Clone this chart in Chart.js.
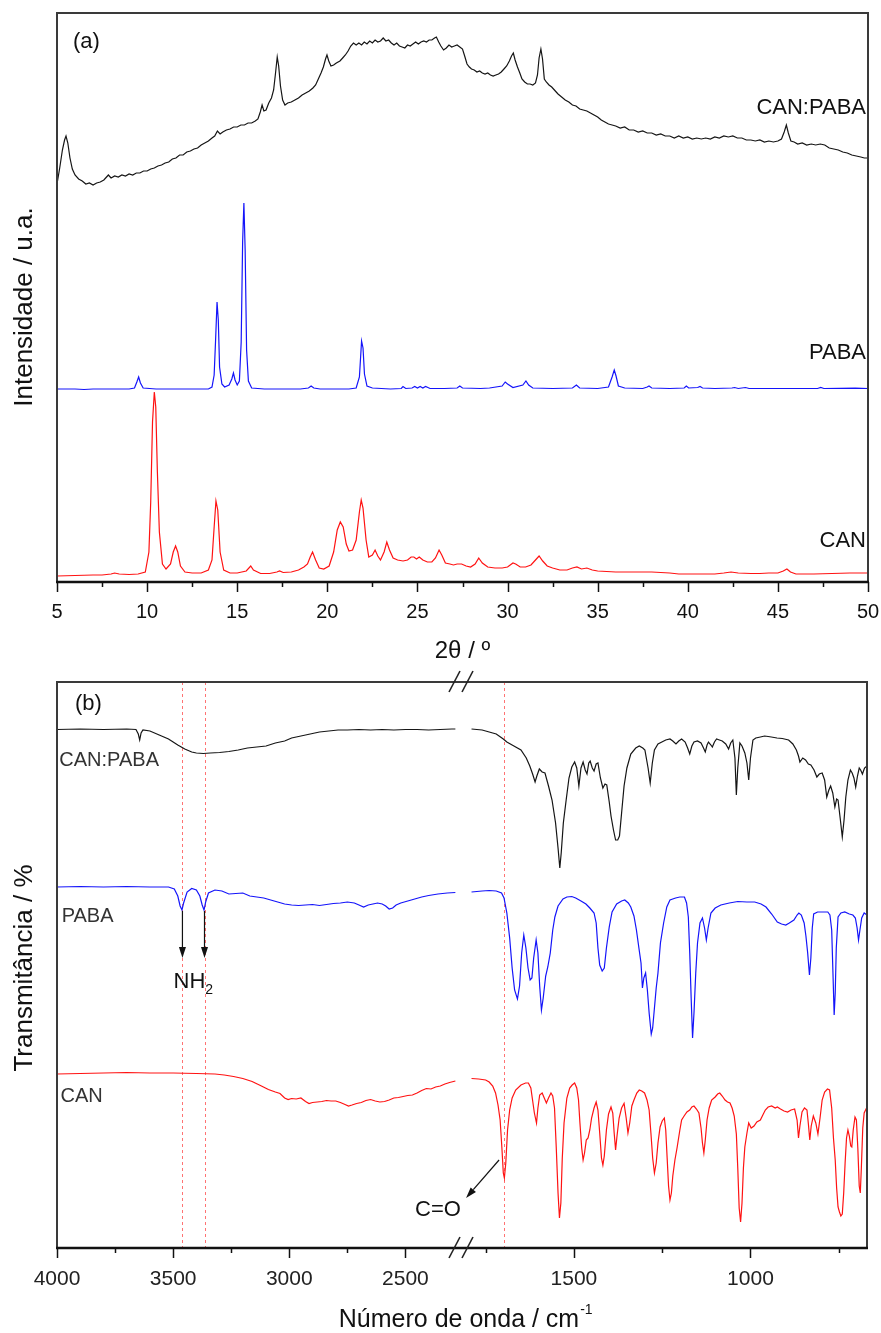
<!DOCTYPE html>
<html>
<head>
<meta charset="utf-8">
<script src="https://cdn.jsdelivr.net/npm/chart.js@4"></script>
<style>
  html, body { margin: 0; padding: 0; background: #fff; }
  #wrap { position: relative; width: 881px; height: 1333px; }
  #wrap canvas { position: absolute; left: 0; }
  #xrd { top: 0; width: 881px; height: 668px; }
  #ftir { top: 668px; width: 881px; height: 665px; }
</style>
</head>
<body>
<div id="wrap">
  <canvas id="xrd" width="881" height="668"></canvas>
  <canvas id="ftir" width="881" height="665"></canvas>
</div>
<script>
// ---------- (a) X-ray powder patterns: [2theta, intensity] ----------
const xrdCanPaba = [
  [5.0, 398], [5.15, 414], [5.3, 432], [5.42, 442], [5.5, 446], [5.6, 439], [5.72, 424], [5.85, 413],
  [6.0, 407], [6.2, 403], [6.4, 401], [6.6, 398], [6.8, 399], [7.0, 397], [7.2, 399], [7.4, 400],
  [7.6, 402], [7.75, 405], [7.85, 407], [8.0, 404], [8.2, 406], [8.4, 405], [8.6, 407], [8.8, 406],
  [9.0, 408], [9.2, 407], [9.4, 409], [9.6, 409], [9.8, 411], [10.0, 411], [10.2, 413], [10.4, 414],
  [10.6, 416], [10.8, 417], [11.0, 419], [11.2, 420], [11.4, 423], [11.6, 424], [11.8, 427], [12.0, 427],
  [12.2, 430], [12.4, 431], [12.6, 433], [12.8, 434], [13.0, 437], [13.2, 439], [13.4, 441], [13.6, 444],
  [13.75, 446], [13.9, 451], [14.05, 448], [14.2, 450], [14.4, 452], [14.6, 453], [14.8, 455], [15.0, 455],
  [15.2, 457], [15.4, 457], [15.6, 459], [15.8, 459], [16.0, 461], [16.15, 463], [16.28, 470], [16.38, 477],
  [16.48, 471], [16.6, 472], [16.75, 479], [16.9, 484], [17.02, 492], [17.12, 508], [17.22, 525], [17.3, 516],
  [17.4, 496], [17.52, 482], [17.65, 477], [17.8, 479], [18.0, 480], [18.2, 482], [18.4, 484], [18.6, 487],
  [18.8, 489], [19.0, 491], [19.2, 494], [19.35, 497], [19.5, 503], [19.65, 509], [19.78, 515], [19.9, 523],
  [19.98, 527], [20.08, 521], [20.2, 516], [20.35, 517], [20.5, 519], [20.7, 521], [20.85, 524], [21.0, 527],
  [21.15, 531], [21.3, 536], [21.45, 539], [21.6, 537], [21.75, 539], [21.9, 537], [22.05, 540], [22.2, 538],
  [22.35, 541], [22.5, 539], [22.65, 542], [22.8, 540], [22.95, 541], [23.1, 544], [23.25, 541], [23.4, 542],
  [23.55, 539], [23.7, 537], [23.85, 539], [24.0, 536], [24.15, 535], [24.3, 534], [24.45, 537], [24.6, 536],
  [24.75, 538], [24.9, 540], [25.05, 538], [25.2, 540], [25.35, 541], [25.5, 540], [25.65, 542], [25.8, 542],
  [25.95, 544], [26.05, 545], [26.18, 540], [26.3, 536], [26.45, 532], [26.6, 534], [26.75, 537], [26.9, 535],
  [27.05, 536], [27.2, 537], [27.35, 535], [27.5, 533], [27.62, 526], [27.75, 518], [27.88, 515], [28.0, 513],
  [28.15, 512], [28.3, 510], [28.45, 511], [28.6, 509], [28.75, 508], [28.9, 509], [29.05, 507], [29.2, 506],
  [29.35, 507], [29.5, 508], [29.65, 510], [29.8, 513], [29.95, 516], [30.1, 521], [30.22, 526], [30.32, 529],
  [30.42, 522], [30.55, 515], [30.68, 509], [30.8, 503], [30.95, 500], [31.1, 498], [31.25, 498], [31.4, 497],
  [31.55, 499], [31.66, 507], [31.75, 524], [31.85, 533], [31.94, 523], [32.04, 503], [32.15, 500], [32.3, 497],
  [32.45, 495], [32.6, 492], [32.8, 488], [33.0, 485], [33.2, 482], [33.4, 480], [33.6, 477], [33.8, 476],
  [34.0, 473], [34.2, 472], [34.4, 471], [34.6, 469], [34.8, 467], [35.0, 465], [35.2, 462], [35.4, 460],
  [35.6, 458], [35.8, 457], [36.0, 456], [36.25, 454], [36.5, 455], [36.75, 452], [37.0, 452], [37.25, 450],
  [37.5, 451], [37.75, 449], [38.0, 449], [38.25, 447], [38.5, 448], [38.75, 446], [39.0, 446], [39.25, 444],
  [39.5, 446], [39.75, 444], [40.0, 445], [40.25, 443], [40.5, 444], [40.75, 443], [41.0, 444], [41.25, 443],
  [41.5, 445], [41.75, 444], [42.0, 446], [42.25, 445], [42.5, 446], [42.75, 444], [43.0, 444], [43.25, 442],
  [43.5, 442], [43.75, 441], [44.0, 442], [44.25, 440], [44.5, 441], [44.75, 440], [45.0, 441], [45.2, 443],
  [45.35, 450], [45.47, 457], [45.58, 449], [45.72, 441], [45.9, 440], [46.1, 438], [46.35, 439], [46.6, 437],
  [46.85, 438], [47.1, 437], [47.35, 438], [47.6, 437], [47.85, 434], [48.1, 433], [48.35, 432], [48.6, 430],
  [48.85, 429], [49.1, 427], [49.35, 426], [49.6, 425], [49.8, 424], [50.0, 424]
];

const xrdPaba = [
  [5.0, 193], [6.0, 193], [6.5, 192.5], [7.0, 193], [8.0, 193], [9.0, 193], [9.3, 194], [9.43, 200],
  [9.53, 205], [9.63, 199], [9.78, 194], [10.5, 193], [11.5, 193], [12.5, 193], [13.4, 193], [13.6, 195],
  [13.72, 207], [13.8, 242], [13.88, 280], [13.95, 262], [14.02, 215], [14.15, 198], [14.3, 195], [14.55, 197],
  [14.7, 203], [14.79, 209], [14.88, 202], [15.0, 197], [15.12, 201], [15.22, 240], [15.3, 340], [15.37, 379],
  [15.44, 332], [15.52, 232], [15.62, 201], [15.8, 194], [16.5, 193], [17.5, 193], [18.5, 193], [18.95, 194],
  [19.1, 196], [19.25, 194], [19.6, 193], [20.5, 193], [21.2, 193], [21.6, 194], [21.78, 205], [21.9, 241],
  [21.98, 234], [22.06, 208], [22.2, 196], [22.5, 194], [23.5, 193], [24.1, 193.5], [24.2, 195.5], [24.35, 193.5],
  [24.7, 194], [24.85, 195.5], [25.0, 194], [25.15, 195.5], [25.3, 194], [25.45, 195.5], [25.7, 193.5], [26.5, 193.5],
  [27.2, 194], [27.35, 196], [27.5, 194], [28.5, 193.5], [29.0, 194], [29.7, 196], [29.87, 200], [30.0, 198],
  [30.3, 194.5], [30.85, 197], [31.02, 201], [31.17, 197], [31.4, 194], [32.5, 193.5], [33.6, 194], [33.82, 197],
  [34.0, 194], [35.0, 193.5], [35.6, 195], [35.8, 205], [35.92, 212], [36.02, 206], [36.15, 196], [36.5, 194],
  [37.5, 193.5], [37.75, 195], [37.85, 196], [38.0, 194], [39.0, 193.5], [39.8, 194], [39.92, 196], [40.05, 194],
  [40.55, 194.5], [40.68, 195.5], [40.82, 194], [41.5, 193.5], [42.45, 194], [42.6, 194.5], [42.8, 193.5], [43.2, 194.5],
  [43.4, 193.5], [45.0, 193.5], [47.2, 193.5], [47.38, 194.5], [47.55, 193.5], [49.3, 193.8], [50.0, 193.5]
];

const xrdCan = [
  [5.0, 6], [6.0, 6.5], [7.0, 7], [7.5, 7], [8.0, 8], [8.2, 9], [8.45, 8], [9.0, 7.5],
  [9.5, 8], [9.9, 10], [10.1, 30], [10.2, 80], [10.3, 160], [10.4, 190], [10.48, 175], [10.57, 110],
  [10.68, 50], [10.85, 18], [11.05, 13], [11.3, 18], [11.45, 30], [11.58, 36], [11.7, 30], [11.85, 16],
  [12.1, 10], [12.5, 9], [13.0, 9], [13.4, 12], [13.6, 22], [13.72, 55], [13.82, 81], [13.92, 72],
  [14.05, 30], [14.25, 12], [14.6, 9], [15.0, 9], [15.5, 11], [15.75, 16], [15.9, 12], [16.3, 8.5],
  [16.8, 8.5], [17.2, 10], [17.35, 11], [17.55, 9.5], [18.0, 10], [18.4, 12], [18.7, 15], [18.9, 18],
  [19.05, 25], [19.18, 30], [19.35, 22], [19.55, 14], [19.8, 13], [20.1, 16], [20.35, 30], [20.55, 52],
  [20.72, 60], [20.88, 55], [21.05, 38], [21.2, 31], [21.4, 32], [21.6, 42], [21.78, 70], [21.88, 82],
  [21.98, 74], [22.15, 42], [22.3, 25], [22.5, 27], [22.65, 32], [22.8, 26], [22.95, 22], [23.15, 30],
  [23.3, 40], [23.45, 32], [23.65, 24], [23.9, 22], [24.2, 21], [24.45, 22], [24.65, 25], [24.8, 25],
  [24.95, 23], [25.1, 25], [25.3, 22], [25.55, 20], [25.8, 20], [26.0, 24], [26.2, 32], [26.35, 27],
  [26.55, 19], [26.8, 18], [27.0, 17], [27.2, 18], [27.45, 18], [27.7, 16], [27.95, 15], [28.2, 18],
  [28.4, 24], [28.6, 19], [28.9, 15], [29.3, 14], [29.7, 14], [30.0, 15], [30.3, 19], [30.45, 18],
  [30.7, 15], [31.0, 15], [31.3, 17], [31.55, 22], [31.75, 26], [31.95, 21], [32.2, 16], [32.5, 14],
  [32.9, 12], [33.3, 12], [33.6, 14], [33.85, 15], [34.1, 13], [34.4, 14], [34.7, 12], [35.0, 11],
  [35.5, 10.5], [36.0, 10], [36.5, 10], [37.0, 10], [37.5, 10], [38.0, 10], [38.5, 9.5], [39.0, 9],
  [39.5, 8], [40.0, 8], [40.5, 8], [41.0, 8], [41.5, 8], [42.0, 9], [42.4, 10], [42.8, 9],
  [43.5, 8.5], [44.0, 8.5], [44.5, 9], [45.0, 9], [45.3, 11], [45.5, 13], [45.7, 10], [46.0, 8],
  [47.0, 8], [48.0, 8.5], [49.0, 9], [50.0, 9]
];

// ---------- (b) infrared spectra: [wavenumber, transmittance] ----------
// high = 4000..2250 cm-1 part, low = 1800..670 cm-1 part (axis is broken between them)
const irCanPabaHigh = [
  [4000, 518.5], [3900, 519], [3800, 518.5], [3700, 519], [3660, 518.5], [3650, 514], [3644, 508], [3638, 515],
  [3630, 518], [3600, 517], [3560, 513], [3520, 509], [3480, 503], [3450, 499], [3420, 496], [3400, 495],
  [3370, 494.5], [3340, 495], [3300, 495.5], [3260, 496.5], [3220, 498], [3180, 500], [3140, 501], [3100, 502],
  [3060, 505], [3020, 507], [2990, 510], [2950, 512], [2910, 514], [2870, 516], [2830, 517], [2790, 518],
  [2750, 518], [2700, 518.5], [2650, 518], [2600, 518.5], [2550, 518], [2500, 518.5], [2450, 518.5], [2400, 518],
  [2350, 518.5], [2300, 519], [2285, 519]
];
const irCanPabaLow = [
  [1790, 519], [1760, 518], [1740, 516], [1720, 514], [1700, 509], [1690, 506], [1670, 502], [1650, 498],
  [1635, 490], [1625, 482], [1617, 474], [1610, 466], [1605, 472], [1598, 479], [1590, 476], [1582, 475],
  [1572, 462], [1562, 448], [1552, 425], [1545, 400], [1540, 380], [1536, 395], [1530, 425], [1522, 448],
  [1514, 470], [1506, 481], [1498, 486], [1492, 480], [1486, 462], [1480, 480], [1474, 486], [1468, 478],
  [1463, 474], [1458, 485], [1454, 487], [1448, 480], [1443, 477], [1437, 484], [1432, 485], [1425, 470],
  [1418, 460], [1412, 464], [1407, 463], [1400, 446], [1395, 432], [1388, 418], [1382, 408], [1376, 408],
  [1371, 412], [1365, 435], [1358, 462], [1350, 480], [1339, 494], [1325, 500], [1315, 502], [1305, 500],
  [1299, 498], [1290, 480], [1284, 465], [1278, 485], [1272, 498], [1262, 504], [1251, 506], [1240, 508],
  [1228, 509], [1220, 507], [1211, 504], [1203, 507], [1195, 509], [1185, 506], [1178, 500], [1172, 494],
  [1166, 502], [1160, 506], [1150, 507], [1140, 505], [1133, 500], [1128, 496], [1123, 503], [1119, 506],
  [1112, 503], [1108, 501], [1102, 506], [1096, 509], [1088, 508], [1080, 507], [1070, 504], [1062, 499],
  [1056, 505], [1050, 508], [1044, 490], [1040, 453], [1036, 480], [1030, 505], [1024, 502], [1016, 495],
  [1010, 485], [1005, 468], [1000, 490], [993, 508], [985, 510], [972, 511], [960, 512], [950, 511.5],
  [941, 511], [925, 510], [910, 509.5], [892, 508], [880, 504], [870, 498], [864, 492], [860, 486],
  [852, 490], [844, 488], [836, 484], [829, 483], [820, 478], [812, 471], [805, 474], [797, 475],
  [790, 468], [784, 451], [778, 458], [773, 462], [767, 455], [761, 441], [756, 449], [752, 448],
  [746, 430], [740, 411], [735, 428], [730, 451], [724, 468], [717, 478], [712, 475], [707, 470],
  [702, 461], [697, 472], [692, 480], [688, 478], [683, 474], [677, 480], [670, 482]
];

const irPabaHigh = [
  [4000, 361], [3900, 361.5], [3800, 361], [3700, 361.5], [3600, 361], [3520, 361], [3495, 359], [3480, 352],
  [3470, 342], [3462, 338], [3455, 345], [3440, 356], [3420, 359.5], [3400, 358], [3385, 352], [3375, 343],
  [3367, 338], [3360, 346], [3348, 355], [3320, 358], [3290, 357], [3260, 354], [3230, 354.5], [3200, 355],
  [3170, 352], [3140, 351], [3110, 350], [3080, 348], [3050, 346], [3020, 344], [2990, 343], [2960, 342.5],
  [2930, 343], [2900, 343.5], [2870, 342.5], [2840, 343.5], [2810, 344.5], [2780, 345], [2750, 346], [2720, 345],
  [2700, 343], [2680, 341], [2660, 343], [2640, 344], [2620, 345], [2600, 344], [2585, 342], [2570, 339],
  [2555, 340], [2540, 343], [2520, 345], [2490, 347], [2460, 349], [2430, 351], [2400, 352.5], [2360, 354],
  [2320, 355], [2285, 355.5]
];
const irPabaLow = [
  [1790, 356], [1760, 357], [1740, 357.5], [1720, 357], [1705, 355], [1698, 350], [1690, 335], [1682, 310],
  [1675, 280], [1668, 258], [1660, 249], [1654, 262], [1648, 295], [1642, 313], [1636, 300], [1630, 280],
  [1624, 268], [1619, 270], [1614, 290], [1607, 308], [1602, 295], [1597, 262], [1592, 238], [1587, 250],
  [1580, 272], [1574, 281], [1567, 295], [1560, 318], [1554, 331], [1545, 342], [1531, 349], [1520, 351],
  [1506, 351.5], [1495, 350], [1480, 347], [1466, 344], [1455, 340], [1443, 335], [1437, 325], [1432, 300],
  [1427, 283], [1420, 277], [1414, 280], [1408, 300], [1400, 321], [1392, 336], [1379, 344], [1365, 347],
  [1356, 348], [1346, 345], [1339, 341], [1330, 332], [1323, 318], [1316, 300], [1310, 285], [1306, 260],
  [1302, 270], [1297, 275], [1292, 258], [1287, 235], [1281, 214], [1277, 220], [1272, 240], [1267, 260],
  [1262, 275], [1255, 305], [1246, 325], [1237, 341], [1228, 348], [1212, 350], [1200, 351], [1187, 351],
  [1181, 345], [1176, 331], [1172, 295], [1168, 250], [1164, 210], [1160, 235], [1155, 275], [1150, 305],
  [1143, 325], [1136, 330], [1130, 320], [1125, 308], [1120, 320], [1112, 335], [1100, 340], [1084, 343],
  [1060, 345], [1036, 346.5], [1010, 346], [988, 346], [970, 344], [956, 341], [940, 334], [924, 326],
  [912, 324], [900, 323], [890, 325], [877, 328], [868, 333], [863, 335], [856, 333], [848, 325],
  [843, 312], [838, 295], [833, 273], [829, 290], [825, 320], [821, 334], [810, 336], [795, 336],
  [781, 336], [775, 333], [770, 318], [766, 270], [763, 233], [760, 255], [757, 300], [752, 331],
  [744, 335], [733, 336], [720, 334], [710, 333], [703, 330], [698, 320], [694, 308], [690, 318],
  [685, 330], [678, 335], [670, 333]
];

const irCanHigh = [
  [4000, 174], [3900, 174.5], [3800, 175], [3700, 175.5], [3600, 175], [3500, 175], [3400, 174.5], [3320, 174],
  [3280, 173], [3240, 171.5], [3200, 169.5], [3160, 166.5], [3120, 162], [3090, 158.5], [3060, 156], [3040, 154.5],
  [3020, 150], [3005, 148.5], [2990, 149.5], [2970, 149], [2950, 150], [2930, 146.5], [2915, 144.5], [2900, 145.5],
  [2880, 146], [2860, 146.5], [2840, 147.5], [2820, 147], [2800, 147], [2780, 145.5], [2760, 143.5], [2745, 142],
  [2730, 143], [2710, 144.5], [2690, 145.5], [2670, 147.5], [2650, 148.5], [2630, 147], [2610, 146], [2590, 146.5],
  [2570, 148], [2550, 150], [2530, 150.5], [2510, 151.5], [2490, 152.5], [2470, 153], [2450, 155], [2430, 157.5],
  [2410, 159.5], [2390, 159], [2370, 161], [2350, 162], [2330, 164], [2310, 165.5], [2285, 167]
];
const irCanLow = [
  [1790, 169.5], [1770, 169], [1750, 168], [1740, 166], [1730, 162], [1722, 155], [1715, 143], [1709, 128],
  [1704, 100], [1700, 75], [1697, 70], [1693, 85], [1688, 118], [1682, 138], [1675, 150], [1665, 158],
  [1650, 163], [1637, 165], [1629, 165], [1622, 160], [1618, 150], [1612, 135], [1606, 125], [1602, 140],
  [1597, 153], [1590, 155], [1584, 150], [1578, 145], [1572, 150], [1565, 155], [1560, 152], [1555, 140],
  [1550, 100], [1545, 55], [1541, 30], [1537, 45], [1533, 90], [1528, 125], [1520, 150], [1512, 160],
  [1505, 163], [1498, 165], [1492, 160], [1487, 148], [1483, 125], [1478, 100], [1474, 88], [1470, 95],
  [1465, 108], [1460, 110], [1455, 118], [1450, 130], [1443, 140], [1437, 146], [1432, 138], [1427, 115],
  [1422, 90], [1418, 83], [1414, 92], [1408, 118], [1402, 134], [1395, 141], [1390, 135], [1386, 115],
  [1382, 98], [1378, 112], [1372, 130], [1365, 140], [1358, 144.7], [1352, 130], [1347, 115], [1342, 125],
  [1336, 142], [1330, 148], [1322, 155], [1315, 158], [1308, 157], [1300, 155], [1293, 148], [1287, 138],
  [1282, 115], [1277, 90], [1272, 75], [1267, 85], [1262, 105], [1256, 121], [1250, 127], [1244, 130],
  [1240, 118], [1236, 90], [1232, 62], [1228, 48], [1224, 55], [1220, 72], [1214, 88], [1208, 100],
  [1200, 118], [1195, 128], [1188, 132], [1180, 136], [1172, 138], [1166, 141], [1160, 142], [1153, 139],
  [1146, 135], [1140, 120], [1136, 105], [1132, 95], [1128, 108], [1123, 128], [1117, 140], [1110, 148],
  [1100, 151], [1093, 154], [1087, 155], [1080, 152], [1072, 148], [1065, 146], [1058, 145], [1052, 140],
  [1046, 132], [1040, 114], [1036, 80], [1032, 40], [1028, 26], [1024, 45], [1020, 80], [1016, 101],
  [1010, 115], [1005, 125], [998, 120], [990, 122], [982, 126], [972, 128], [965, 133], [958, 138],
  [950, 141], [940, 142], [930, 140], [924, 141], [915, 139], [905, 137], [895, 136], [885, 138],
  [875, 139], [868, 128], [864, 110], [860, 122], [854, 136], [847, 140], [840, 138], [836, 124],
  [832, 108], [828, 122], [822, 132], [815, 125], [809, 114], [803, 130], [797, 148], [790, 156],
  [782, 159], [776, 158], [770, 140], [765, 110], [760, 88], [756, 60], [752, 41], [748, 36],
  [744, 32], [740, 34], [736, 55], [732, 85], [728, 110], [724, 118], [720, 112], [716, 102],
  [713, 101], [709, 118], [704, 131], [700, 128], [696, 100], [692, 62], [689, 55], [686, 80],
  [682, 120], [678, 135], [674, 138], [670, 141]
];

// axis ticks of the broken wavenumber axis ('' = minor tick)
const irTickValues = [4000, 3750, 3500, 3250, 3000, 2750, 2500, 1750, 1500, 1250, 1000, 750];
const irTickLabels = ['4000', '', '3500', '', '3000', '', '2500', '', '1500', '', '1000', ''];
// band positions marked with dashed lines
const irMarkedBands = [3460, 3365, 1697];

const BLACK = '#151515';
const BLUE = 'rgb(20,20,250)';
const RED = 'rgb(255,18,18)';
const SANS = '"Liberation Sans", Arial, Helvetica, sans-serif';

// broken axis: 4000-2250 on the left, 1800-670 on the right
function irPos(wn) {
  if (wn >= 2250) return (4000 - wn) * 406.5 / 1750;
  return 411 + (1800 - wn) * 399 / 1130;
}
function toIr(arr) {
  return arr.map(p => ({ x: irPos(p[0]), y: p[1] }));
}
function toXY(arr) {
  return arr.map(p => ({ x: p[0], y: p[1] }));
}

function text(ctx, s, x, y, size, align, color) {
  ctx.save();
  ctx.font = size + 'px ' + SANS;
  ctx.fillStyle = color || '#111';
  ctx.textAlign = align || 'left';
  ctx.textBaseline = 'middle';
  ctx.fillText(s, x, y);
  ctx.restore();
}

function vText(ctx, s, x, y, size) {
  ctx.save();
  ctx.translate(x, y);
  ctx.rotate(-Math.PI / 2);
  text(ctx, s, 0, 0, size, 'center', '#111');
  ctx.restore();
}

function arrow(ctx, x1, y1, x2, y2) {
  const a = Math.atan2(y2 - y1, x2 - x1);
  const L = 11, W = 3.5;
  ctx.save();
  ctx.strokeStyle = '#111';
  ctx.fillStyle = '#111';
  ctx.lineWidth = 1.2;
  ctx.beginPath();
  ctx.moveTo(x1, y1);
  ctx.lineTo(x2 - L * Math.cos(a), y2 - L * Math.sin(a));
  ctx.stroke();
  ctx.beginPath();
  ctx.moveTo(x2, y2);
  ctx.lineTo(x2 - L * Math.cos(a) + W * Math.sin(a), y2 - L * Math.sin(a) - W * Math.cos(a));
  ctx.lineTo(x2 - L * Math.cos(a) - W * Math.sin(a), y2 - L * Math.sin(a) + W * Math.cos(a));
  ctx.closePath();
  ctx.fill();
  ctx.restore();
}

function drawFrame(chart) {
  const { ctx, chartArea: a } = chart;
  ctx.save();
  ctx.strokeStyle = '#3a3a3a';
  ctx.lineWidth = 2;
  ctx.strokeRect(a.left, a.top, a.right - a.left, a.bottom - a.top);
  ctx.strokeStyle = '#111';
  ctx.lineWidth = 2.5;
  ctx.beginPath();
  ctx.moveTo(a.left - 1, a.bottom);
  ctx.lineTo(a.right + 1, a.bottom);
  ctx.stroke();
  // outward ticks, short ones without label
  const x = chart.scales.x;
  ctx.lineWidth = 1.5;
  x.ticks.forEach(t => {
    const px = Math.round(x.getPixelForValue(t.value)) + 0.5;
    const len = t.label !== '' ? 10 : 5;
    ctx.beginPath();
    ctx.moveTo(px, a.bottom);
    ctx.lineTo(px, a.bottom + len);
    ctx.stroke();
  });
  ctx.restore();
}

function lineDataset(data, color) {
  return {
    data: data,
    borderColor: color,
    borderWidth: 1.2,
    pointRadius: 0,
    tension: 0,
    fill: false
  };
}

// fixed axis band height, no extra edge padding for the end labels
function fixAxis(height) {
  return s => {
    s.height = height;
    s.paddingLeft = 0;
    s.paddingRight = 0;
  };
}

const xrdDecor = {
  id: 'xrdDecor',
  afterDraw(chart) {
    const { ctx, chartArea: a } = chart;
    const x = chart.scales.x, y = chart.scales.y;
    drawFrame(chart);
    text(ctx, '(a)', a.left + 16, a.top + 29, 22);
    text(ctx, 'CAN:PABA', x.getPixelForValue(50) - 2, y.getPixelForValue(474), 22, 'right');
    text(ctx, 'PABA', x.getPixelForValue(50) - 2, y.getPixelForValue(229), 22, 'right');
    text(ctx, 'CAN', x.getPixelForValue(50) - 2, y.getPixelForValue(41), 22, 'right');
    vText(ctx, 'Intensidade / u.a.', 25, 307, 26);
    text(ctx, '2θ / º', (a.left + a.right) / 2, 651, 24, 'center');
  }
};

const irDecor = {
  id: 'irDecor',
  beforeDatasetsDraw(chart) {
    const { ctx, chartArea: a } = chart;
    const x = chart.scales.x;
    ctx.save();
    ctx.strokeStyle = 'rgba(255,90,90,0.85)';
    ctx.lineWidth = 1;
    ctx.setLineDash([3, 3]);
    irMarkedBands.forEach(wn => {
      const px = Math.round(x.getPixelForValue(irPos(wn))) + 0.5;
      ctx.beginPath();
      ctx.moveTo(px, a.top);
      ctx.lineTo(px, a.bottom);
      ctx.stroke();
    });
    ctx.restore();
  },
  afterDraw(chart) {
    const { ctx, chartArea: a } = chart;
    const x = chart.scales.x, y = chart.scales.y;
    drawFrame(chart);

    // axis break marks on top and bottom
    const bx = x.getPixelForValue(405);
    ctx.save();
    ctx.strokeStyle = '#222';
    ctx.lineWidth = 1.6;
    [a.top, a.bottom].forEach(by => {
      [-7, 6].forEach(o => {
        ctx.beginPath();
        ctx.moveTo(bx + o - 6, by + 10);
        ctx.lineTo(bx + o + 5, by - 11);
        ctx.stroke();
      });
    });
    ctx.restore();

    text(ctx, '(b)', a.left + 18, a.top + 22, 22);
    text(ctx, 'CAN:PABA', x.getPixelForValue(irPos(3990)), y.getPixelForValue(488), 20, 'left', '#333');
    text(ctx, 'PABA', x.getPixelForValue(irPos(3980)), y.getPixelForValue(332), 20, 'left', '#333');
    text(ctx, 'CAN', x.getPixelForValue(irPos(3985)), y.getPixelForValue(152), 20, 'left', '#333');

    // NH2 arrows from the PABA bands
    const n1 = x.getPixelForValue(irPos(3460)), n2 = x.getPixelForValue(irPos(3365));
    arrow(ctx, n1, y.getPixelForValue(337), n1, y.getPixelForValue(290));
    arrow(ctx, n2, y.getPixelForValue(337), n2, y.getPixelForValue(290));
    const nx = (n1 + n2) / 2, ny = y.getPixelForValue(266);
    ctx.save();
    ctx.font = '22px ' + SANS;
    const w1 = ctx.measureText('NH').width;
    ctx.restore();
    text(ctx, 'NH', nx - (w1 + 8) / 2, ny, 22, 'left');
    text(ctx, '2', nx - (w1 + 8) / 2 + w1, ny + 8, 14, 'left');

    // C=O arrow from the CAN carbonyl band
    const cx = x.getPixelForValue(irPos(1712)), cy = y.getPixelForValue(88);
    arrow(ctx, cx, cy, cx - 33, cy + 38);
    text(ctx, 'C=O', x.getPixelForValue(irPos(2360)), y.getPixelForValue(38), 22, 'center');

    vText(ctx, 'Transmitância / %', 25, 300, 26);
    // x title with superscript
    ctx.save();
    ctx.font = '25px ' + SANS;
    const main = 'Número de onda / cm';
    const wm = ctx.measureText(main).width;
    ctx.restore();
    const tx = (a.left + a.right) / 2 - (wm + 10) / 2 + 2;
    text(ctx, main, tx, 652, 25, 'left');
    text(ctx, '-1', tx + wm + 1, 642, 14, 'left');
  }
};

new Chart(document.getElementById('xrd'), {
  type: 'line',
  data: {
    datasets: [
      lineDataset(toXY(xrdCanPaba), BLACK),
      lineDataset(toXY(xrdPaba), BLUE),
      lineDataset(toXY(xrdCan), RED)
    ]
  },
  options: {
    responsive: false,
    animation: false,
    devicePixelRatio: 1,
    layout: { padding: { left: 57, right: 13, top: 13, bottom: 0 } },
    plugins: { legend: { display: false }, tooltip: { enabled: false } },
    scales: {
      x: {
        type: 'linear',
        min: 5,
        max: 50,
        grid: { display: false },
        border: { display: false },
        ticks: {
          stepSize: 2.5,
          autoSkip: false,
          maxRotation: 0,
          padding: 10,
          color: '#111',
          font: { family: SANS, size: 20 },
          callback: v => (v % 5 === 0 ? String(v) : '')
        },
        afterFit: fixAxis(86)
      },
      y: { display: false, min: 0, max: 569 }
    }
  },
  plugins: [xrdDecor]
});

new Chart(document.getElementById('ftir'), {
  type: 'line',
  data: {
    datasets: [
      lineDataset(toIr(irCanPabaHigh), BLACK),
      lineDataset(toIr(irCanPabaLow), BLACK),
      lineDataset(toIr(irPabaHigh), BLUE),
      lineDataset(toIr(irPabaLow), BLUE),
      lineDataset(toIr(irCanHigh), RED),
      lineDataset(toIr(irCanLow), RED)
    ]
  },
  options: {
    responsive: false,
    animation: false,
    devicePixelRatio: 1,
    layout: { padding: { left: 57, right: 14, top: 14, bottom: 0 } },
    plugins: { legend: { display: false }, tooltip: { enabled: false } },
    scales: {
      x: {
        type: 'linear',
        min: 0,
        max: 810,
        grid: { display: false },
        border: { display: false },
        afterBuildTicks: s => { s.ticks = irTickValues.map(w => ({ value: irPos(w) })); },
        ticks: {
          autoSkip: false,
          maxRotation: 0,
          padding: 11,
          color: '#222',
          font: { family: SANS, size: 21 },
          callback: (v, i) => irTickLabels[i]
        },
        afterFit: fixAxis(85)
      },
      y: { display: false, min: 0, max: 566 }
    }
  },
  plugins: [irDecor]
});
</script>
</body>
</html>
